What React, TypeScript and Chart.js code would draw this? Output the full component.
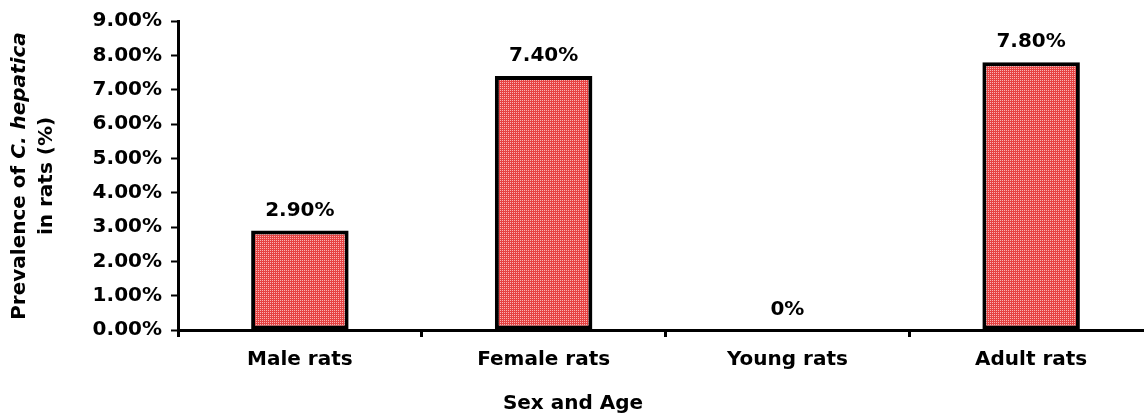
import React, { useEffect, useRef } from "react";
import { Chart, registerables } from "chart.js";

Chart.register(...registerables);

const categories = ["Male rats", "Female rats", "Young rats", "Adult rats"];
const prevalence = [2.9, 7.4, 0, 7.8];
const yTickValues = [0, 1, 2, 3, 4, 5, 6, 7, 8, 9];
const xTitle = "Sex and Age";
const yTitlePlain = "Prevalence of ";
const yTitleItalic = "C. hepatica";
const yTitleLine2 = "in rats (%)";

const FONT = "'DejaVu Sans', Verdana, sans-serif";
const FS = 20;

function makePattern(target: CanvasRenderingContext2D | null): CanvasPattern | string {
  const c = document.createElement("canvas");
  c.width = 2;
  c.height = 2;
  const g = c.getContext("2d");
  if (!g || !target) return "#e06a6a";
  g.fillStyle = "rgb(230, 66, 66)";
  g.fillRect(0, 0, 2, 2);
  g.fillStyle = "rgb(248, 180, 180)";
  g.fillRect(0, 0, 1, 1);
  const p = target.createPattern(c, "repeat");
  return p || "#e06a6a";
}

const labelsPlugin = {
  id: "customLabels",
  afterDatasetsDraw(chart: any) {
    const ctx = chart.ctx;
    const meta = chart.getDatasetMeta(0);
    ctx.save();
    ctx.font = `bold ${FS}px ${FONT}`;
    ctx.fillStyle = "#000";
    ctx.textAlign = "center";
    ctx.textBaseline = "bottom";
    meta.data.forEach((bar: any, i: number) => {
      const v = prevalence[i];
      const txt = v === 0 ? "0%" : v.toFixed(2) + "%";
      ctx.fillText(txt, bar.x, bar.y - 10);
    });
    ctx.restore();
  },
  afterDraw(chart: any) {
    const ctx = chart.ctx;
    ctx.save();
    ctx.fillStyle = "#000";
    ctx.font = `bold ${FS}px ${FONT}`;
    ctx.textAlign = "center";
    ctx.textBaseline = "middle";
    ctx.fillText(xTitle, 573, 404);
    const cy = 176;
    ctx.translate(20, cy);
    ctx.rotate(-Math.PI / 2);
    ctx.textBaseline = "middle";
    ctx.textAlign = "left";
    ctx.font = `bold ${FS}px ${FONT}`;
    const w1 = ctx.measureText(yTitlePlain).width;
    ctx.font = `italic bold ${FS}px ${FONT}`;
    const w2 = ctx.measureText(yTitleItalic).width;
    const start = -(w1 + w2) / 2;
    ctx.font = `bold ${FS}px ${FONT}`;
    ctx.fillText(yTitlePlain, start, 0);
    ctx.font = `italic bold ${FS}px ${FONT}`;
    ctx.fillText(yTitleItalic, start + w1, 0);
    ctx.font = `bold ${FS}px ${FONT}`;
    ctx.textAlign = "center";
    ctx.fillText(yTitleLine2, 0, 27);
    ctx.restore();
  },
};

export default function App() {
  const ref = useRef<HTMLCanvasElement>(null);
  useEffect(() => {
    if (!ref.current) return;
    const pattern = makePattern(ref.current.getContext("2d"));
    const chart = new Chart(ref.current, {
      type: "bar",
      data: {
        labels: categories,
        datasets: [
          {
            data: prevalence,
            backgroundColor: () => pattern as any,
            borderColor: "#000",
            borderWidth: 4,
            borderSkipped: false,
            barPercentage: 0.4,
            categoryPercentage: 1,
          },
        ],
      },
      options: {
        responsive: false,
        animation: false,
        devicePixelRatio: 1,
        layout: { padding: { top: 20, right: 7, left: 0, bottom: 0 } },
        plugins: { legend: { display: false }, tooltip: { enabled: false } },
        scales: {
          x: {
            afterFit: (s: any) => {
              s.height = 84;
            },
            grid: {
              offset: true,
              drawOnChartArea: false,
              drawTicks: true,
              tickLength: 7,
              tickColor: "#000",
              tickWidth: 3,
            },
            border: { display: true, color: "#000", width: 3 },
            ticks: {
              color: "#000",
              font: { family: FONT, size: FS, weight: "bold" },
              padding: 11,
              maxRotation: 0,
            },
          },
          y: {
            min: 0,
            max: 9,
            afterFit: (s: any) => {
              s.width = 178;
            },
            afterBuildTicks: (s: any) => {
              s.ticks = yTickValues.map((v) => ({ value: v }));
            },
            grid: {
              drawOnChartArea: false,
              drawTicks: true,
              tickLength: 7,
              tickColor: "#000",
              tickWidth: 2,
            },
            border: { display: true, color: "#000", width: 3 },
            ticks: {
              color: "#000",
              font: { family: FONT, size: FS, weight: "bold" },
              padding: 9,
              callback: (v: any) => Number(v).toFixed(2) + "%",
            },
          },
        },
      },
      plugins: [labelsPlugin],
    });
    return () => chart.destroy();
  }, []);
  return (
    <div
      style={{
        position: "fixed",
        left: 0,
        top: 0,
        width: 1144,
        height: 414,
        overflow: "hidden",
        background: "#fff",
      }}
    >
      <canvas ref={ref} width={1160} height={414} />
    </div>
  );
}
